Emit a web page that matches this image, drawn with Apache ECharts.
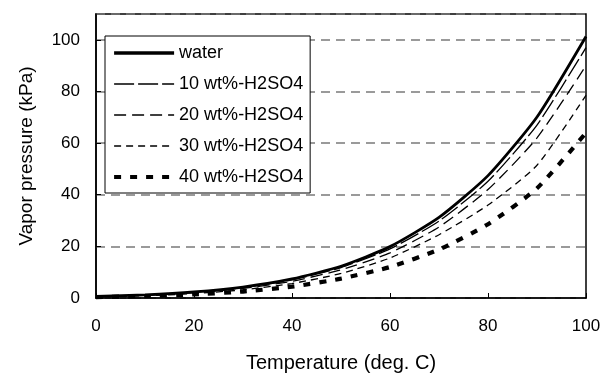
<!DOCTYPE html>
<html>
<head>
<meta charset="utf-8">
<script src="https://cdn.jsdelivr.net/npm/echarts@6/dist/echarts.min.js"></script>
<style>
html,body{margin:0;padding:0;background:#fff;}
#chart{width:609px;height:378px;}
</style>
</head>
<body>
<div id="chart"></div>
<script>
// Temperature (deg. C)
const temperatures = [0, 10, 20, 30, 40, 50, 60, 70, 80, 90, 100];
// Vapor pressure (kPa)
const water   = [0.61, 1.23, 2.34, 4.25, 7.38, 12.3, 19.9, 31.2, 47.4, 70.1, 101.3];
const wt10    = [0.55, 1.15, 2.2, 4.0, 7.0, 11.8, 19.0, 29.8, 45.2, 67.0, 97.0];
const wt20    = [0.5, 1.05, 2.0, 3.7, 6.5, 10.9, 17.5, 27.5, 42.0, 62.0, 90.0];
const wt30    = [0.45, 0.9, 1.7, 3.2, 5.6, 9.5, 15.5, 24.5, 36.0, 51.4, 78.5];
const wt40    = [0.35, 0.7, 1.4, 2.5, 4.4, 7.5, 12.0, 18.8, 28.6, 42.5, 64.0];
const seriesNames = ['water', '10 wt%-H2SO4', '20 wt%-H2SO4', '30 wt%-H2SO4', '40 wt%-H2SO4'];
const xTicks = [0, 20, 40, 60, 80, 100];
const yTicks = [0, 20, 40, 60, 80, 100];

const FONT = '"Liberation Sans", Arial, Helvetica, sans-serif';
function pairs(vals){ return temperatures.map((t,i)=>[t, vals[i]]); }

const styles = [
  {width: 2.8, legendWidth: 3.6, type: 'solid'},
  {width: 1.3, legendWidth: 1.3, type: [20, 4]},
  {width: 1.3, legendWidth: 1.3, type: [12, 6]},
  {width: 1.3, legendWidth: 1.3, type: [7, 5]},
  {width: 4.2, legendWidth: 4.2, type: [7, 9]}
];
const allData = [water, wt10, wt20, wt30, wt40];

const chart = echarts.init(document.getElementById('chart'), null, {renderer: 'canvas'});
chart.setOption({
  animation: false,
  backgroundColor: '#fff',
  grid: {left: 96, right: 23, top: 14, bottom: 75, show: true, borderColor: '#000', borderWidth: 1.5, backgroundColor: 'transparent'},
  legend: {
    orient: 'vertical', left: 105, top: 36,
    padding: [7, 7, 6, 7],
    itemWidth: 60, itemHeight: 14, itemGap: 11,
    backgroundColor: '#fff', borderColor: '#000', borderWidth: 1,
    itemStyle: {opacity: 0, borderWidth: 0},
    textStyle: {fontFamily: FONT, fontSize: 18, color: '#000', lineHeight: 20},
    data: seriesNames.map((n, i) => ({
      name: n,
      lineStyle: {color: '#000', width: styles[i].legendWidth, type: styles[i].type}
    }))
  },
  xAxis: {
    type: 'value', min: 0, max: 100, interval: 20,
    name: 'Temperature (deg. C)', nameLocation: 'middle', nameGap: 55,
    nameTextStyle: {fontFamily: FONT, fontSize: 20, color: '#000'},
    axisLine: {show: true, onZero: false, lineStyle: {color: '#000', width: 1.5}},
    axisTick: {show: true, inside: true, length: 5, lineStyle: {color: '#000', width: 1}},
    axisLabel: {fontFamily: FONT, fontSize: 17, color: '#000', margin: 20,
      formatter: v => xTicks.includes(v) ? String(v) : ''},
    splitLine: {show: false}
  },
  yAxis: {
    type: 'value', min: 0, max: 110, interval: 20,
    name: 'Vapor pressure (kPa)', nameLocation: 'middle', nameGap: 60,
    nameTextStyle: {fontFamily: FONT, fontSize: 19, color: '#000'},
    axisLine: {show: true, lineStyle: {color: '#000', width: 1.5}},
    axisTick: {show: true, inside: true, length: 5, lineStyle: {color: '#000', width: 1}},
    axisLabel: {fontFamily: FONT, fontSize: 17, color: '#000', margin: 16, showMaxLabel: false,
      formatter: v => yTicks.includes(v) ? String(v) : ''},
    splitLine: {show: true, lineStyle: {color: '#7a7a7a', width: 1.5, type: [9, 6]}}
  },
  series: seriesNames.map((n, i) => ({
    name: n, type: 'line', data: pairs(allData[i]),
    symbol: 'none', smooth: 0.2, z: 10 - i,
    itemStyle: {color: '#000'},
    lineStyle: {color: '#000', width: styles[i].width, type: styles[i].type}
  }))
});
</script>
</body>
</html>
